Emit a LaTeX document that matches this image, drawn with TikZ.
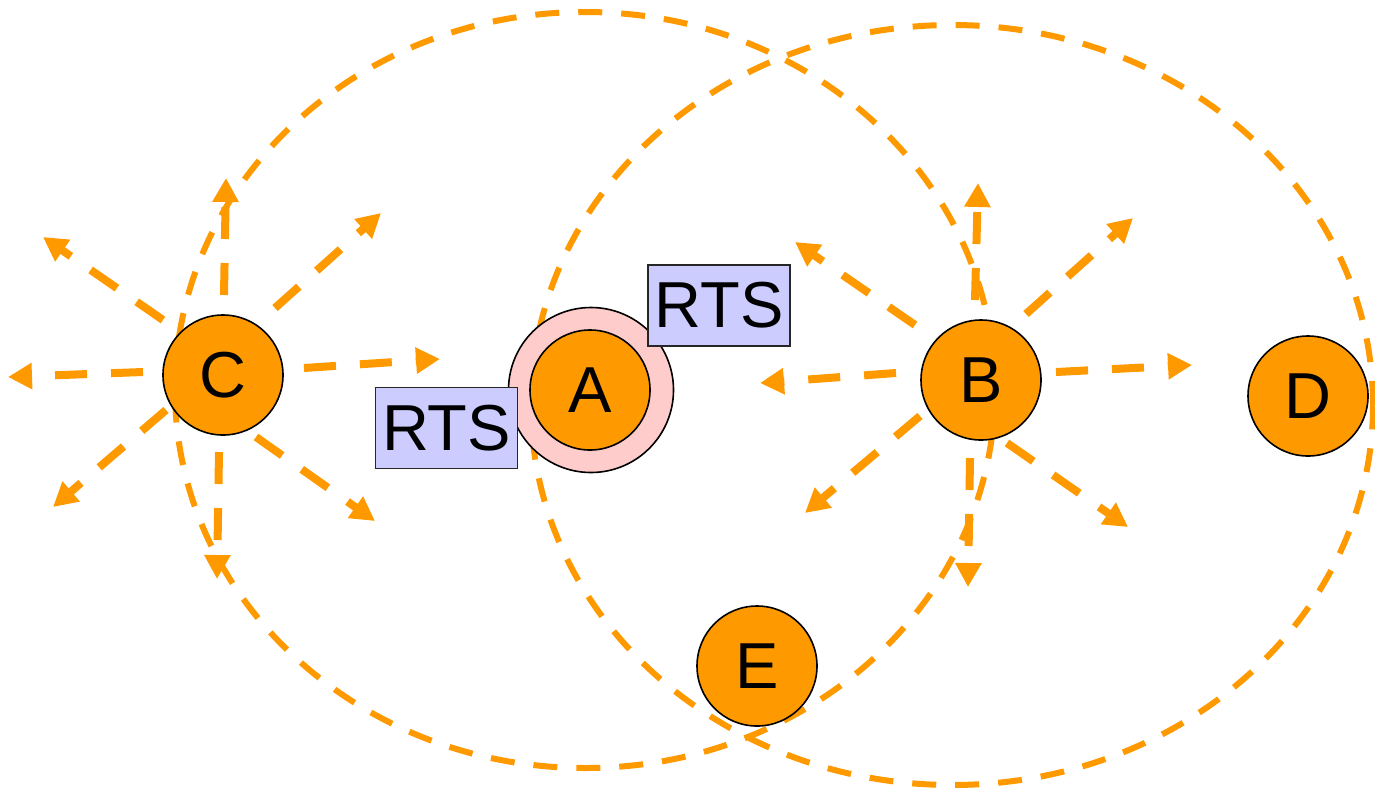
\documentclass[tikz,border=0pt]{standalone}
\usepackage{fontspec}
\setmainfont{Liberation Sans}
\usetikzlibrary{arrows.meta}
\definecolor{orng}{HTML}{FF9900}
\definecolor{ringpink}{HTML}{FFCCCC}
\definecolor{rtsblue}{HTML}{CCCCFF}

\begin{document}
\begin{tikzpicture}[x=1pt,y=-1pt,
  station/.style={circle, draw=black, line width=1.6pt, fill=orng,
    minimum size=120pt, inner sep=0pt, font=\fontsize{65}{65}\selectfont},
  busyring/.style={circle, draw=black, line width=1.6pt, fill=ringpink,
    minimum size=165pt, inner sep=0pt},
  rtsbox/.style={draw=black!85, line width=1.6pt, fill=rtsblue,
    minimum width=142pt, minimum height=81pt, inner sep=0pt,
    font=\fontsize{65}{65}\selectfont},
  txrange/.style={draw=orng, line width=6pt, dash pattern=on 24pt off 19pt},
  ray/.style={draw=orng, line width=8pt, dash pattern=on 32pt off 24pt,
    -{Triangle[length=24pt,width=25pt]}}
]
\useasboundingbox (0,0) rectangle (1375,793);

% transmission ranges of C and B
\draw[txrange] (585,390) ellipse [x radius=410pt, y radius=378pt];
\draw[txrange] (952,405) ellipse [x radius=421pt, y radius=380pt];

% broadcast rays around C
\coordinate (cNs) at (224,295);  \coordinate (cNt) at (226,178);
\coordinate (cNEs) at (275,308); \coordinate (cNEt) at (381,213);
\coordinate (cEs) at (304,368);  \coordinate (cEt) at (440,359);
\coordinate (cNWs) at (163,320); \coordinate (cNWt) at (43,237);
\coordinate (cWs) at (143,372);  \coordinate (cWt) at (8,377);
\coordinate (cSWs) at (166,410); \coordinate (cSWt) at (53,507);
\coordinate (cSs) at (219,452);  \coordinate (cSt) at (217,579);
\coordinate (cSEs) at (256,437); \coordinate (cSEt) at (375,521);
\foreach \d in {N,NE,E,NW,W,SW,S,SE}
  \draw[ray] (c\d s) -- (c\d t);

% broadcast rays around B
\coordinate (bNs) at (975,300);   \coordinate (bNt) at (978,183);
\coordinate (bNEs) at (1026,314); \coordinate (bNEt) at (1133,218);
\coordinate (bEs) at (1056,372);  \coordinate (bEt) at (1192,365);
\coordinate (bNWs) at (915,325);  \coordinate (bNWt) at (795,242);
\coordinate (bWs) at (896,373);   \coordinate (bWt) at (760,383);
\coordinate (bSWs) at (920,416);  \coordinate (bSWt) at (805,513);
\coordinate (bSs) at (970,458);   \coordinate (bSt) at (968,587);
\coordinate (bSEs) at (1007,443); \coordinate (bSEt) at (1128,527);
\foreach \d in {N,NE,E,NW,W,SW,S,SE}
  \draw[ray] (b\d s) -- (b\d t);

% stations
\node[busyring] (Aring) at (591,390) {};
\node[station] (A) at (590,390) {A};
\node[station] (B) at (981,380) {B};
\node[station] (C) at (223,375) {C};
\node[station] (D) at (1308,396) {D};
\node[station] (E) at (757,666) {E};

% RTS frames
\node[rtsbox] (rts1) at (719,305.5) {RTS};
\node[rtsbox] (rts2) at (446.5,428) {RTS};
\end{tikzpicture}
\end{document}
